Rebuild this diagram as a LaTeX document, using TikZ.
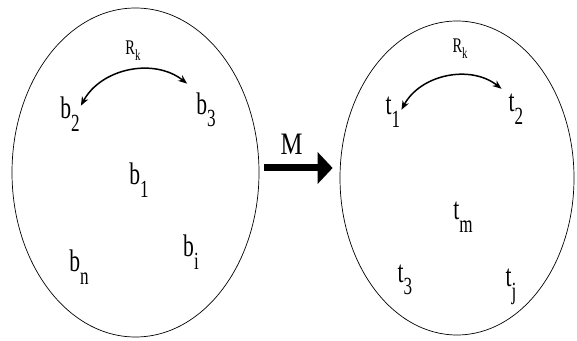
\documentclass[tikz,border=0pt]{standalone}
\usepackage{fontspec}
\setmainfont{Liberation Serif}
\usetikzlibrary{arrows.meta,shapes.geometric}
% element label: letter with a lowered index, drawn narrow and tall
\newcommand{\elem}[2]{\scalebox{0.9}[1.3]{#1\raisebox{-.4em}{\fontsize{19}{19}\selectfont #2}}}
\newcommand{\rel}{\scalebox{0.9}[1.3]{R\raisebox{-.3em}{\fontsize{12}{12}\selectfont k}}}

\begin{document}
\begin{tikzpicture}[x=1pt,y=1pt,
  every node/.style={font=\fontsize{24}{24}\selectfont, inner sep=1pt},
  setbox/.style={draw, ellipse, line width=0.7pt, inner sep=0pt},
  lbl/.style={font=\fontsize{16}{16}\selectfont},
  relarc/.style={{Stealth[length=9pt,width=7pt]}-{Stealth[length=9pt,width=7pt]}, line width=1.5pt},
  maparrow/.style={-{Triangle[length=15pt,width=31pt]}, line width=7pt},
]
  \useasboundingbox (0,0) rectangle (577,340);

  % source set
  \node[setbox, minimum width=247pt, minimum height=329pt] (bset) at (135.5,167.5) {};
  \node[lbl] (rb) at (133,289) {\rel};
  \node (b2) at (70,226) {\elem{b}{2}};
  \node (b3) at (206,230) {\elem{b}{3}};
  \node (b1) at (139,160) {\elem{b}{1}};
  \node (bn) at (79,73) {\elem{b}{n}};
  \node (bi) at (191,88) {\elem{b}{i}};
  \draw[relarc] ([yshift=-10pt]b2.north east) to[bend left=50] ([shift={(-8pt,8pt)}]b3.north west);

  % target set
  \node[setbox, minimum width=234pt, minimum height=314pt] (tset) at (457,162) {};
  \node[lbl] (rt) at (460,291) {\rel};
  \node (t1) at (393,228) {\elem{t}{1}};
  \node (t2) at (516,231) {\elem{t}{2}};
  \node (tm) at (463,123) {\elem{t}{m}};
  \node (t3) at (405,60) {\elem{t}{3}};
  \node (tj) at (511,53) {\elem{t}{j}};
  \draw[relarc] ([yshift=-14pt]t1.north east) to[bend left=50] ([shift={(-6pt,4pt)}]t2.north west);

  % mapping
  \draw[maparrow, shorten <=5pt, shorten >=7pt] (bset.east |- 0,172) -- (tset.west |- 0,172)
    node[midway, above=9pt, xshift=-8pt, font=\fontsize{26}{26}\selectfont] (m) {\scalebox{0.95}[1.2]{M}};
\end{tikzpicture}
\end{document}
